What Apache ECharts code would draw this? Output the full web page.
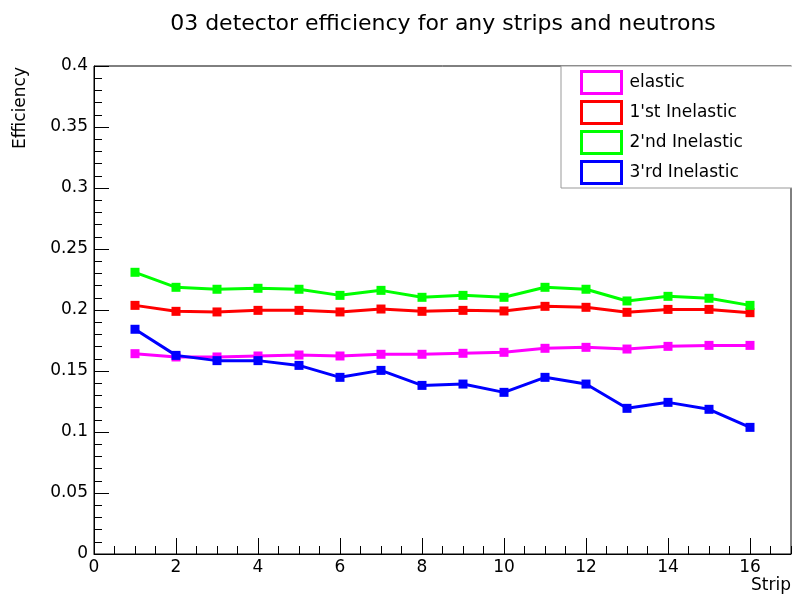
<!DOCTYPE html>
<html>
<head>
<meta charset="utf-8">
<script src="https://cdn.jsdelivr.net/npm/echarts@6/dist/echarts.min.js"></script>
<style>
  html, body { margin: 0; padding: 0; background: #fff; }
  #chart { width: 792px; height: 596px; }
</style>
</head>
<body>
<div id="chart"></div>
<script>
// Strip numbers and per-strip detection efficiencies
const strips = [1, 2, 3, 4, 5, 6, 7, 8, 9, 10, 11, 12, 13, 14, 15, 16];
const elastic = [0.1642, 0.1615, 0.1615, 0.1623, 0.1631, 0.1623, 0.1637, 0.1637,
                 0.1645, 0.1653, 0.1686, 0.1694, 0.1680, 0.1702, 0.1710, 0.1710];
const inelastic1 = [0.2038, 0.1989, 0.1984, 0.1997, 0.1997, 0.1984, 0.2008, 0.1989,
                    0.1997, 0.1992, 0.2030, 0.2022, 0.1981, 0.2005, 0.2005, 0.1978];
const inelastic2 = [0.2309, 0.2186, 0.2170, 0.2178, 0.2170, 0.2120, 0.2161, 0.2104,
                    0.2120, 0.2104, 0.2186, 0.2170, 0.2074, 0.2112, 0.2096, 0.2038];
const inelastic3 = [0.1842, 0.1628, 0.1585, 0.1585, 0.1546, 0.1448, 0.1505, 0.1382,
                    0.1393, 0.1325, 0.1448, 0.1393, 0.1194, 0.1243, 0.1186, 0.1038];

const seriesNames = ['elastic', "1'st Inelastic", "2'nd Inelastic", "3'rd Inelastic"];
const seriesColors = ['#ff00ff', '#ff0000', '#00ff00', '#0000ff'];
const seriesValues = [elastic, inelastic1, inelastic2, inelastic3];

const FONT = '"DejaVu Sans", "Liberation Sans", Arial, sans-serif';

const chart = echarts.init(document.getElementById('chart'), null, { renderer: 'canvas' });

const series = seriesValues.map((vals, i) => ({
  name: seriesNames[i],
  type: 'line',
  xAxisIndex: 0,
  data: strips.map((s, j) => [s, vals[j]]),
  symbol: 'rect',
  symbolSize: 9,
  showAllSymbol: true,
  lineStyle: { color: seriesColors[i], width: 3 },
  itemStyle: { color: seriesColors[i] },
  emphasis: { disabled: true },
  animation: false,
  z: 2 + i
}));

const option = {
  animation: false,
  textStyle: { fontFamily: FONT },
  grid: {
    left: 94, right: 1, top: 66, bottom: 42,
    show: true, borderColor: '#000', borderWidth: 1, backgroundColor: 'transparent'
  },
  xAxis: [
    {
      type: 'value', min: 0, max: 17, interval: 2,
      axisLine: { show: true, onZero: false, lineStyle: { color: '#000', width: 1 } },
      axisTick: { show: true, inside: true, length: 16, lineStyle: { color: '#000' } },
      axisLabel: { show: true, showMaxLabel: false, color: '#000', fontSize: 17, margin: 5, fontFamily: FONT },
      splitLine: { show: false }
    },
    {
      type: 'value', min: 0, max: 17, interval: 0.5,
      position: 'bottom',
      axisLine: { show: false },
      axisTick: { show: true, inside: true, length: 8, lineStyle: { color: '#000' } },
      axisLabel: { show: false },
      splitLine: { show: false }
    }
  ],
  yAxis: {
    type: 'value', min: 0, max: 0.4, interval: 0.05,
    axisLine: { show: true, lineStyle: { color: '#000', width: 1 } },
    axisTick: { show: true, inside: true, length: 15, lineStyle: { color: '#000' } },
    minorTick: { show: true, splitNumber: 5, length: 8, lineStyle: { color: '#000' } },
    axisLabel: { color: '#000', fontSize: 17, margin: 6, fontFamily: FONT },
    splitLine: { show: false }
  },
  legend: {
    orient: 'vertical',
    left: 561, top: 66,
    padding: [4, 50, 3, 19],
    itemGap: 5,
    itemWidth: 40, itemHeight: 22,
    icon: 'rect',
    backgroundColor: '#fff',
    borderColor: '#999',
    borderWidth: 1,
    selectedMode: false,
    textStyle: { color: '#000', fontSize: 17, lineHeight: 22, fontFamily: FONT, padding: [0, 0, 0, 3] },
    data: seriesNames.map((n, i) => ({
      name: n,
      icon: 'rect',
      itemStyle: { color: '#fff', borderColor: seriesColors[i], borderWidth: 3 }
    }))
  },
  graphic: [
    {
      type: 'text', x: 443, y: 24,
      style: {
        text: '03 detector efficiency for any strips and neutrons',
        fill: '#000', font: '22px ' + FONT,
        textAlign: 'center', textVerticalAlign: 'middle'
      }
    },
    {
      type: 'text', x: 21, y: 67, rotation: Math.PI / 2,
      style: {
        text: 'Efficiency', fill: '#000', font: '17px ' + FONT,
        textAlign: 'right', textVerticalAlign: 'middle'
      }
    },
    {
      type: 'text', x: 791, y: 586,
      style: {
        text: 'Strip', fill: '#000', font: '17px ' + FONT,
        textAlign: 'right', textVerticalAlign: 'middle'
      }
    }
  ],
  series: series
};

chart.setOption(option);
</script>
</body>
</html>
